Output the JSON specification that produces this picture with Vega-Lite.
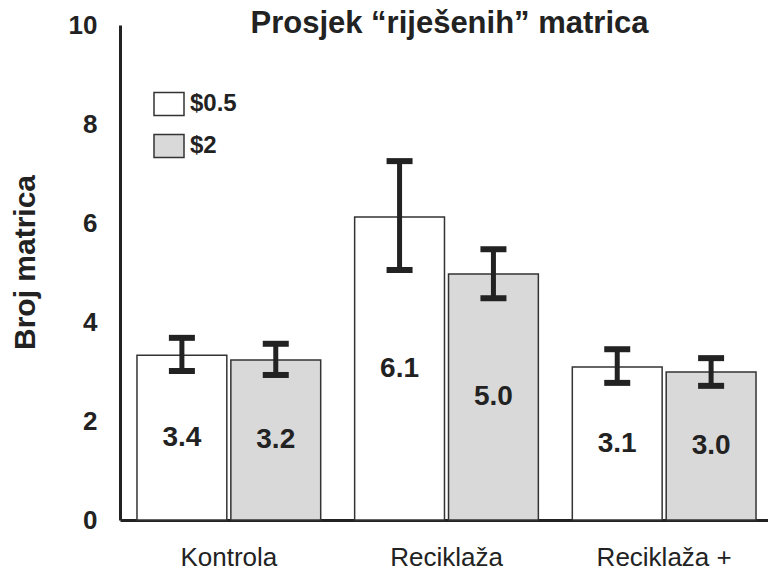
{
  "$schema": "https://vega.github.io/schema/vega-lite/v6.json",
  "width": 653,
  "height": 495,
  "autosize": "none",
  "padding": {"left": 120, "top": 25, "right": 0, "bottom": 53},
  "background": "white",
  "config": {"view": {"stroke": null}, "font": "Liberation Sans"},
  "data": {"values": [
    {"group": "Kontrola", "cond": "$0.5", "value": 3.33, "lo": 3.01, "hi": 3.68, "label": "3.4"},
    {"group": "Kontrola", "cond": "$2", "value": 3.23, "lo": 2.93, "hi": 3.56, "label": "3.2"},
    {"group": "Reciklaža", "cond": "$0.5", "value": 6.12, "lo": 5.05, "hi": 7.25, "label": "6.1"},
    {"group": "Reciklaža", "cond": "$2", "value": 4.97, "lo": 4.48, "hi": 5.47, "label": "5.0"},
    {"group": "Reciklaža +", "cond": "$0.5", "value": 3.09, "lo": 2.77, "hi": 3.45, "label": "3.1"},
    {"group": "Reciklaža +", "cond": "$2", "value": 2.99, "lo": 2.71, "hi": 3.27, "label": "3.0"}
  ]},
  "encoding": {
    "x": {"field": "group", "type": "nominal", "sort": ["Kontrola", "Reciklaža", "Reciklaža +"], "scale": {"paddingInner": 0.156, "paddingOuter": 0.078},
      "axis": {"title": null, "labelFontSize": 26, "labelColor": "#222222", "labelPadding": 24, "ticks": false, "domainColor": "#222222", "domainWidth": 3, "labelAngle": 0}}
  },
  "layer": [
    {"mark": {"type": "bar", "stroke": "#333333", "strokeWidth": 1.5, "opacity": 1},
     "encoding": {
       "xOffset": {"field": "cond", "type": "nominal", "sort": ["$0.5", "$2"], "scale": {"paddingInner": 0.043}},
       "y": {"field": "value", "type": "quantitative", "scale": {"domain": [0, 10]},
         "axis": {"title": "Broj matrica", "titleFontSize": 30, "titleFontWeight": "bold", "titleColor": "#222222", "titlePadding": 28, "titleY": 237, "labelFontSize": 26, "labelFontWeight": "bold", "labelColor": "#222222", "labelPadding": 23, "ticks": false, "grid": false, "domainColor": "#222222", "domainWidth": 3, "values": [0, 2, 4, 6, 8, 10], "labelFlush": false}},
       "fill": {"field": "cond", "type": "nominal", "sort": ["$0.5", "$2"], "scale": {"domain": ["$0.5", "$2"], "range": ["#ffffff", "#d9d9d9"]},
         "legend": {"title": null, "orient": "none", "legendX": 33, "legendY": 63, "symbolType": "M-1,-0.767H1V0.767H-1Z", "symbolSize": 900, "symbolStrokeColor": "#333333", "symbolStrokeWidth": 1.5, "labelFontSize": 24, "labelFontWeight": "bold", "labelColor": "#222222", "rowPadding": 11, "labelOffset": 5}}
     }},
    {"mark": {"type": "rule", "strokeWidth": 5, "color": "#222222", "opacity": 1},
     "encoding": {"xOffset": {"field": "cond", "type": "nominal", "sort": ["$0.5", "$2"]}, "y": {"field": "lo", "type": "quantitative", "title": "Broj matrica"}, "y2": {"field": "hi"}}},
    {"mark": {"type": "tick", "thickness": 6, "size": 26, "color": "#222222", "opacity": 1},
     "encoding": {"xOffset": {"field": "cond", "type": "nominal", "sort": ["$0.5", "$2"]}, "y": {"field": "lo", "type": "quantitative", "title": "Broj matrica"}}},
    {"mark": {"type": "tick", "thickness": 6, "size": 26, "color": "#222222", "opacity": 1},
     "encoding": {"xOffset": {"field": "cond", "type": "nominal", "sort": ["$0.5", "$2"]}, "y": {"field": "hi", "type": "quantitative", "title": "Broj matrica"}}},
    {"transform": [{"calculate": "datum.value / 2", "as": "mid"}],
     "mark": {"type": "text", "fontSize": 28, "fontWeight": "bold", "color": "#222222"},
     "encoding": {"xOffset": {"field": "cond", "type": "nominal", "sort": ["$0.5", "$2"]}, "y": {"field": "mid", "type": "quantitative", "title": "Broj matrica"}, "text": {"field": "label"}}},
    {"data": {"values": [{"title": "Prosjek “riješenih” matrica"}]},
     "mark": {"type": "text", "fontSize": 31, "fontWeight": "bold", "color": "#222222", "baseline": "alphabetic", "dx": 3},
     "encoding": {"x": {"datum": "Reciklaža"}, "y": {"datum": 9.84, "type": "quantitative", "title": "Broj matrica"}, "text": {"field": "title"}}}
  ]
}
